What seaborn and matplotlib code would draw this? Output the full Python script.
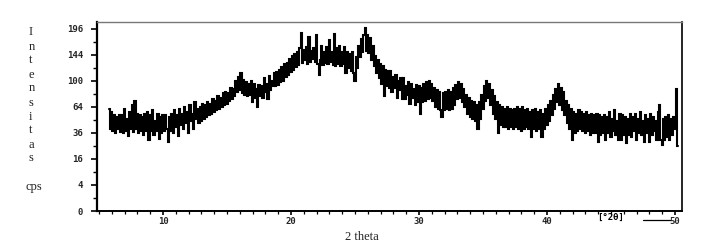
import numpy as np
import pandas as pd
import matplotlib
matplotlib.use("Agg")
import matplotlib.pyplot as plt
from matplotlib.lines import Line2D
import seaborn as sns

# ---- data, 0.1 deg sampling from 5.8 deg ----
two_theta_start = 5.8
two_theta_step = 0.1
intensity = [
    62, 40, 58, 38, 54, 36, 52, 40, 55, 37,            # 5.8 - 6.7
    54, 36, 62, 38, 50, 33, 58, 40, 66, 37,            # 6.8 - 7.7
    72, 40, 56, 36, 54, 38, 52, 34, 56, 38,            # 7.8 - 8.7
    58, 30, 54, 38, 60, 34, 48, 38, 56, 31,            # 8.8 - 9.7
    52, 36, 55, 38, 54, 40, 28, 52, 38, 56,            # 9.8 - 10.7
    36, 60, 42, 54, 33, 62, 44, 56, 40, 64,            # 10.8 - 11.7
    46, 58, 36, 66, 48, 56, 40, 70, 50, 62,            # 11.8 - 12.7
    46, 64, 48, 68, 50, 66, 52, 70, 54, 68,            # 12.8 - 13.7
    56, 74, 58, 72, 60, 78, 62, 76, 64, 82,            # 13.8 - 14.7
    66, 84, 68, 82, 72, 90, 74, 88, 78, 100,           # 14.8 - 15.7
    84, 106, 86, 112, 82, 102, 80, 98, 78, 96,         # 15.8 - 16.7
    80, 100, 70, 96, 76, 88, 64, 94, 78, 92,           # 16.8 - 17.7
    76, 104, 84, 96, 74, 108, 86, 100, 92, 112,        # 17.8 - 18.7
    92, 114, 94, 118, 98, 122, 100, 128, 106, 130,     # 18.8 - 19.7
    110, 136, 114, 142, 118, 146, 122, 150, 126, 156,  # 19.8 - 20.7
    188, 130, 154, 134, 158, 128, 178, 132, 152, 136,  # 20.8 - 21.7
    156, 132, 184, 128, 110, 134, 160, 126, 150, 130,  # 21.8 - 22.7
    158, 128, 172, 132, 150, 126, 186, 124, 156, 128,  # 22.8 - 23.7
    160, 124, 150, 128, 158, 112, 150, 120, 146, 116,  # 23.8 - 24.7
    150, 112, 100, 140, 120, 160, 140, 174, 150, 184,  # 24.8 - 25.7
    198, 152, 182, 148, 176, 134, 160, 124, 142, 112,  # 25.8 - 26.7
    134, 104, 128, 96, 124, 78, 118, 92, 116, 90,      # 26.8 - 27.7
    116, 84, 106, 90, 110, 76, 100, 86, 104, 74,       # 27.8 - 28.7
    104, 74, 92, 80, 98, 68, 96, 76, 88, 66,           # 28.8 - 29.7
    94, 70, 92, 56, 90, 70, 96, 72, 98, 74,            # 29.8 - 30.7
    100, 76, 96, 72, 90, 64, 86, 62, 84, 60,           # 30.8 - 31.7
    52, 82, 60, 84, 62, 86, 60, 84, 62, 90,            # 31.8 - 32.7
    66, 94, 74, 98, 76, 96, 70, 88, 64, 80,            # 32.8 - 33.7
    56, 76, 52, 72, 50, 70, 48, 66, 40, 70,            # 33.8 - 34.7
    50, 80, 62, 92, 72, 100, 76, 96, 66, 86,           # 34.8 - 35.7
    56, 78, 50, 70, 36, 66, 44, 64, 42, 62,            # 35.8 - 36.7
    42, 64, 40, 62, 42, 60, 40, 62, 42, 64,            # 36.8 - 37.7
    40, 62, 38, 64, 40, 60, 42, 62, 40, 58,            # 37.8 - 38.7
    32, 60, 40, 62, 38, 58, 40, 60, 32, 56,            # 38.8 - 39.7
    40, 62, 44, 66, 48, 72, 54, 80, 62, 88,            # 39.8 - 40.7
    70, 96, 66, 90, 60, 84, 54, 72, 46, 66,            # 40.8 - 41.7
    40, 62, 30, 58, 36, 56, 38, 60, 40, 58,            # 41.8 - 42.7
    38, 56, 36, 58, 38, 54, 34, 56, 36, 54,            # 42.8 - 43.7
    36, 56, 28, 54, 34, 52, 36, 54, 30, 52,            # 43.8 - 44.7
    36, 58, 32, 50, 38, 60, 34, 48, 30, 56,            # 44.8 - 45.7
    30, 54, 34, 52, 27, 50, 34, 56, 32, 52,            # 45.8 - 46.7
    38, 56, 30, 50, 36, 58, 34, 48, 28, 54,            # 46.8 - 47.7
    36, 50, 28, 56, 34, 52, 38, 48, 30, 58,            # 47.8 - 48.7
    66, 30, 26, 50, 30, 52, 32, 54, 30, 50,            # 48.8 - 49.7
    34, 52, 40, 88, 25,                                # 49.8 - 50.2
]
two_theta = two_theta_start + two_theta_step * np.arange(len(intensity))

y_ticks = [0, 4, 16, 36, 64, 100, 144, 196]
y_minor = [1, 9, 25, 49, 81, 121, 169]
x_ticks = [10, 20, 30, 40, 50]
ylabel_letters = ["I", "n", "t", "e", "n", "s", "i", "t", "a", "s"]

df = pd.DataFrame({"two_theta": two_theta, "cps": intensity})

# ---- figure ----
sns.set_theme(style="white")
plt.rcParams["font.family"] = ["DejaVu Sans"]

W, H = 705, 249
fig = plt.figure(figsize=(W / 100, H / 100), dpi=100)
ax = fig.add_axes([97 / W, 1 - 211 / H, (682 - 97) / W, (211 - 22) / H])

sns.lineplot(data=df, x="two_theta", y="cps", ax=ax, color="black",
             linewidth=1.5, estimator=None, sort=False, drawstyle="steps-mid",
             solid_joinstyle="miter")

ax.set_yscale("function", functions=(lambda v: np.sqrt(np.clip(v, 0, None)),
                                      lambda v: np.square(v)))
ax.set_ylim(0, 211)
ax.set_xlim(4.84, 50.55)

ax.set_yticks(y_ticks)
ax.set_yticks(y_minor, minor=True)
ax.set_yticklabels([str(t) for t in y_ticks])
ax.set_xticks(x_ticks)
ax.set_xticks(np.arange(5, 51, 1), minor=True)
ax.set_xticklabels([str(t) for t in x_ticks])

for lab in ax.get_yticklabels() + ax.get_xticklabels():
    lab.set_fontfamily("DejaVu Sans Mono")
    lab.set_fontweight("bold")
    lab.set_fontsize(6.5)

ax.tick_params(axis="y", which="major", direction="out", length=4, width=1.2,
               color="black", pad=6, left=True)
ax.tick_params(axis="y", which="minor", direction="out", length=3, width=1.0,
               color="black", left=True)
ax.tick_params(axis="x", which="major", direction="out", length=3, width=1.2,
               color="black", pad=1.5, bottom=True)
ax.tick_params(axis="x", which="minor", direction="out", length=2, width=0.9,
               color="black", bottom=True)

ax.set_xlabel("")
ax.set_ylabel("")

for side in ["left", "bottom", "right"]:
    ax.spines[side].set_visible(True)
    ax.spines[side].set_color("black")
ax.spines["left"].set_linewidth(1.6)
ax.spines["bottom"].set_linewidth(1.4)
ax.spines["right"].set_linewidth(1.2)
ax.spines["top"].set_visible(True)
ax.spines["top"].set_color("#777777")
ax.spines["top"].set_linewidth(1.0)

serif = ["Liberation Serif", "DejaVu Serif"]
letter_y = [32, 47, 60, 75, 88, 103, 117, 130, 145, 158]
for ch, py in zip(ylabel_letters, letter_y):
    fig.text(29 / W, 1 - py / H, ch, family=serif, fontsize=9,
             ha="left", va="center", color="#222222")
fig.text(26 / W, 1 - 187 / H, "cps", family=serif, fontsize=9,
         ha="left", va="center", color="#222222")

fig.text(362 / W, 1 - 237 / H, "2 theta", family=serif, fontsize=9,
         ha="center", va="center", color="#222222")

fig.text(611 / W, 1 - 217 / H, "[°2θ]", family="DejaVu Sans Mono",
         weight="bold", fontsize=6.5, ha="center", va="center", color="black")
fig.add_artist(Line2D([643 / W, 670 / W], [1 - 219.5 / H, 1 - 219.5 / H],
                      color="black", linewidth=0.9, transform=fig.transFigure))

fig.savefig("out.png", dpi=100, facecolor="white")
